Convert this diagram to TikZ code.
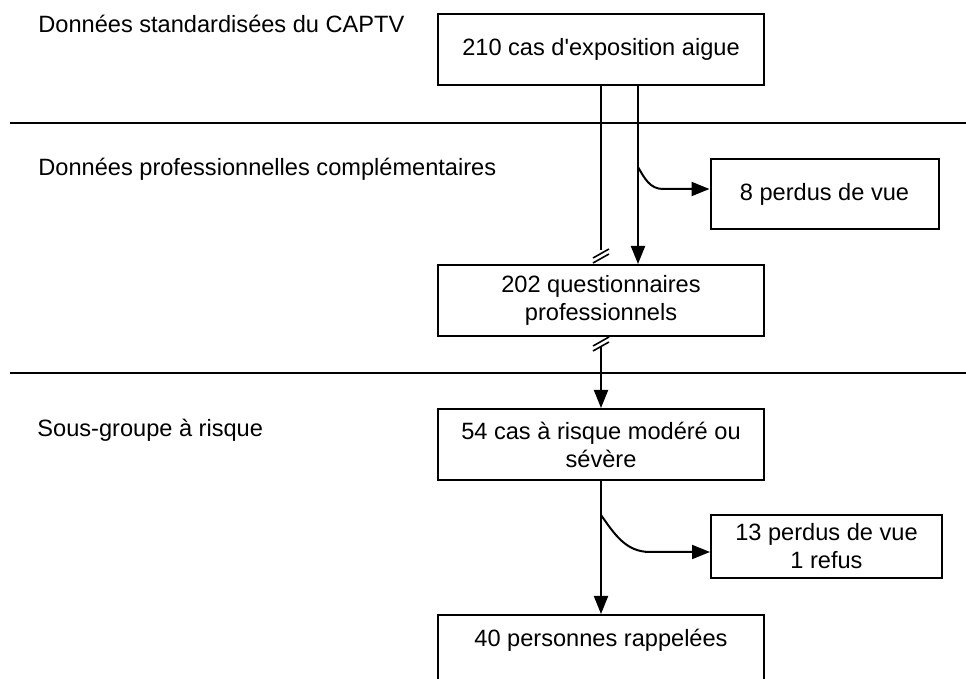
\documentclass[tikz,border=0pt]{standalone}
\usepackage{fontspec}
\setmainfont{Liberation Sans}
\usepackage{tikz}
\usetikzlibrary{positioning}
\usetikzlibrary{arrows.meta}
\newcommand{\myfont}{\fontsize{11.8}{14}\selectfont}
\tikzset{
  myarrow/.style={
    draw=black,
    line width=1pt,
    -{Triangle[length=9pt,width=7pt]},
  },
  myline/.style={
    draw=black,
    line width=1pt,
  },
  mycut/.style={
    draw=black,
    line width=0.8pt,
  },
  mysquare/.style={
    draw=black,
    shape=rectangle,
    line width=1pt,
    align=center,
    inner sep=0pt,
    minimum width=163pt,
    minimum height=35.5pt,
    font=\myfont
  },
  mysidesquare/.style={
    mysquare,
    minimum width=114pt,
    minimum height=35pt,
  },
  mylabel/.style={
    anchor=base west,
    inner sep=0pt,
    font=\myfont
  },
}

\begin{document}
\begin{tikzpicture}[x=0.5pt, y=-0.5pt]
    \useasboundingbox (0,0) rectangle (966,679);
    \clip (0,0) rectangle (966,679);

    % section rules and titles
    \draw [myline] (10,123) -- (966,123);
    \draw [myline] (10,373) -- (966,373);
    \node [mylabel] (titleA) at (38,33) {Données standardisées du CAPTV};
    \node [mylabel] (titleB) at (38,176) {Données professionnelles complémentaires};
    \node [mylabel] (titleC) at (37,437) {Sous-groupe à risque};

    \node [mysquare] (expo) at (601,49.5) {210 cas d\textquotesingle exposition aigue};
    \node [mysquare] (quest) at (601,300.5) {202 questionnaires\\professionnels};
    \node [mysquare] (risk) at (601,444.5) {54 cas à risque modéré ou\\sévère};
    \node [mysquare, anchor=north, minimum height=0pt, inner ysep=7pt, text depth=30pt] (rappel) at (601,614) {40 personnes rappelées};

    \node [mysidesquare] (lostA) at (824.5,194) {8 perdus de vue};
    \node [mysidesquare, minimum width=115.5pt, minimum height=31.5pt] (lostB) at (826.5,546.5) {13 perdus de vue\\1 refus};

    % first step
    \coordinate (cutA) at (601,250);
    \draw [myline] (expo.south) -- (cutA);
    \draw [mycut] ([shift={(-8,8)}]cutA) -- ++(16,-9);
    \draw [mycut] ([shift={(-8,13)}]cutA) -- ++(16,-9);
    \draw [myarrow] ([xshift=18.5pt]expo.south) -- ([xshift=18.5pt]quest.north);
    \coordinate (brA) at (638,167);
    \coordinate (kA) at (663,189);
    \draw [myarrow] (brA) to[out=-60, in=180] (kA) -- ([yshift=2.5pt]lostA.west);

    % second step
    \coordinate (cutB) at (601,346);
    \draw [mycut] ([shift={(-8,0)}]cutB) -- ++(16,-9);
    \draw [mycut] ([shift={(-8,5)}]cutB) -- ++(16,-9);
    \draw [myarrow] (cutB) -- (risk.north);

    % third step
    \draw [myarrow] (risk.south) -- (rappel.north);
    \coordinate (brB) at (601,515);
    \coordinate (kB) at (650,552);
    \draw [myarrow] (brB) to[out=-55, in=180] (kB) -- ([yshift=-2.75pt]lostB.west);

\end{tikzpicture}
\end{document}
